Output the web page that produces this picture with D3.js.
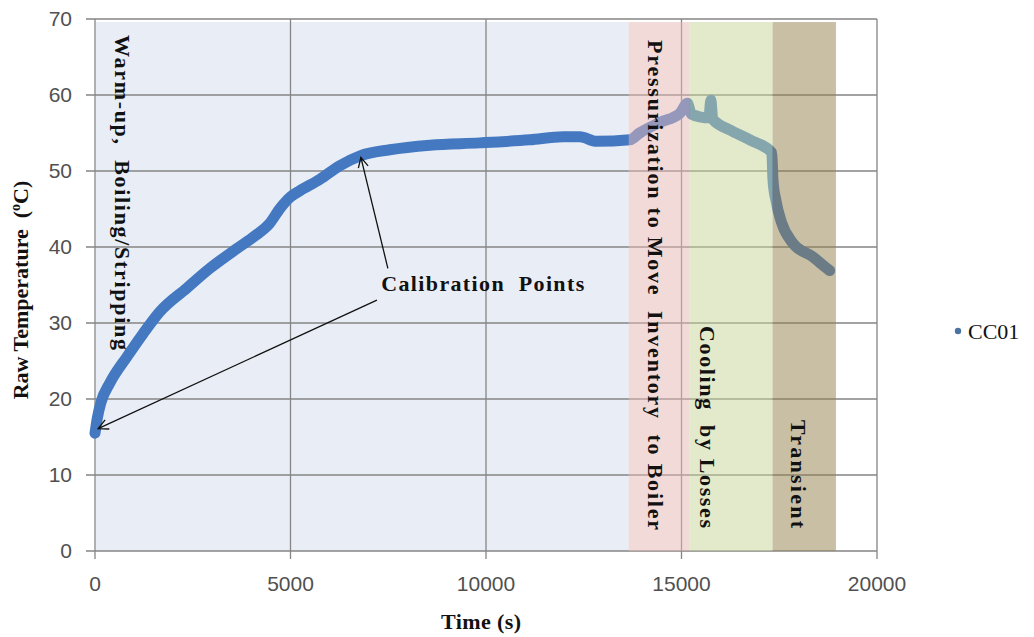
<!DOCTYPE html>
<html>
<head>
<meta charset="utf-8">
<script src="https://cdn.jsdelivr.net/npm/d3@7"></script>
<style>
  body { margin: 0; background: #fff; }
  .tick-label { font-family: "Liberation Sans", Arial, sans-serif; font-size: 21px; fill: #505050; }
  .serif-b { font-family: "Liberation Serif", "Times New Roman", serif; font-weight: bold; fill: #111; }
</style>
</head>
<body>
<div id="chart"></div>
<script>
// CC01 raw temperature
const times = [0, 60, 150, 380, 810, 1230, 1660, 2350, 2940, 3630, 4100, 4450, 4750, 5000, 5240,
  5750, 6260, 6780, 7540, 8570, 9840, 11120, 11970, 12400, 12830, 13680, 13930, 14450, 14960,
  15150, 15250, 15500, 15700, 15750, 15800, 16240, 16750, 17310, 17340, 17420, 17560, 17850,
  18360, 18715, 18790];
const temps = [15.5, 17.5, 19.5, 22.1, 25.5, 28.6, 31.5, 34.6, 37.2, 39.8, 41.5, 43.0, 45.2, 46.6, 47.4,
  48.9, 50.7, 52.0, 52.8, 53.4, 53.7, 54.1, 54.5, 54.5, 53.9, 54.1, 55.0, 56.4, 57.6,
  58.9, 57.5, 57.1, 57.0, 59.3, 56.8, 55.4, 54.1, 52.4, 48.8, 46.0, 43.2, 40.5,
  38.7, 37.2, 36.9];

// test phases
const phaseNames = ['Warm-up,  Boiling/Stripping', 'Pressurization to Move  Inventory  to Boiler',
  'Cooling  by Losses', 'Transient'];
const phaseStart = [0, 13650, 15200, 17330];
const phaseEnd = [13650, 15200, 17330, 18950];

const xTicks = [0, 5000, 10000, 15000, 20000];
const yTicks = [0, 10, 20, 30, 40, 50, 60, 70];

const seriesName = 'CC01';

const draw = () => {
  const width = 1034, height = 637;
  const svg = d3.select('#chart')
    .append('svg')
    .attr('width', width)
    .attr('height', height);

  const x = d3.scaleLinear().domain([0, 20000]).range([95, 877]);
  const y = d3.scaleLinear().domain([0, 70]).range([551, 19]);

  const data = times.map((t, i) => ({t: t, v: temps[i]}));
  const phases = phaseNames.map((name, i) => ({name: name, start: phaseStart[i], end: phaseEnd[i]}));
  const bandTop = 69.6;

  // warm-up band sits behind the data
  svg.append('rect')
    .attr('x', x(phases[0].start) + 1)
    .attr('y', y(bandTop))
    .attr('width', x(phases[0].end) - x(phases[0].start) - 1)
    .attr('height', y(0) - y(bandTop))
    .attr('fill', '#e9eef6');

  // grid
  svg.append('g')
    .selectAll('line')
    .data(yTicks)
    .join('line')
    .attr('x1', x(0) - 9).attr('x2', x(20000))
    .attr('y1', d => y(d)).attr('y2', d => y(d))
    .attr('stroke', '#858585').attr('stroke-width', 1.3);
  svg.append('g')
    .selectAll('line')
    .data(xTicks)
    .join('line')
    .attr('x1', d => x(d)).attr('x2', d => x(d))
    .attr('y1', y(70)).attr('y2', y(0) + 8)
    .attr('stroke', '#858585').attr('stroke-width', 1.3);

  // series
  const line = d3.line().x(d => x(d.t)).y(d => y(d.v)).curve(d3.curveMonotoneX);
  svg.append('path')
    .datum(data)
    .attr('d', line)
    .attr('fill', 'none')
    .attr('stroke', '#4479c2')
    .attr('stroke-width', 11)
    .attr('stroke-linejoin', 'round')
    .attr('stroke-linecap', 'round');

  // other phases are shaded over the data
  const overlay = ['#e5b5b3', '#c7d397', '#917f4b'];
  svg.append('g')
    .selectAll('rect')
    .data(phases.slice(1))
    .join('rect')
    .attr('x', d => x(d.start))
    .attr('y', y(bandTop))
    .attr('width', d => x(d.end) - x(d.start))
    .attr('height', y(0) - y(bandTop))
    .attr('fill', (d, i) => overlay[i])
    .attr('opacity', 0.5);

  // phase labels, reading downward
  const labelX = [122, 655, 707, 798];
  const labelTop = [35, 40, 326, 420];
  const labelLen = [315, 490, 202, 108];
  svg.append('g')
    .selectAll('text')
    .data(phases)
    .join('text')
    .attr('class', 'serif-b')
    .attr('font-size', 22)
    .attr('transform', (d, i) => `translate(${labelX[i]}, ${labelTop[i]}) rotate(90)`)
    .attr('dominant-baseline', 'central')
    .attr('textLength', (d, i) => labelLen[i])
    .attr('lengthAdjust', 'spacing')
    .style('white-space', 'pre')
    .text(d => d.name);

  // calibration arrows
  const defs = svg.append('defs');
  defs.append('marker')
    .attr('id', 'arrow')
    .attr('viewBox', '0 0 12 12')
    .attr('refX', 11).attr('refY', 6)
    .attr('markerWidth', 12).attr('markerHeight', 12)
    .attr('markerUnits', 'userSpaceOnUse')
    .attr('orient', 'auto')
    .append('path')
    .attr('d', 'M1,1 L11,6 L1,11')
    .attr('fill', 'none')
    .attr('stroke', '#111')
    .attr('stroke-width', 1.3);
  const arrows = [
    {from: [7490, 37.2], to: [6800, 51.8]},
    {from: [7210, 33.0], to: [80, 16.1]}
  ];
  svg.append('g')
    .selectAll('line')
    .data(arrows)
    .join('line')
    .attr('x1', d => x(d.from[0])).attr('y1', d => y(d.from[1]))
    .attr('x2', d => x(d.to[0])).attr('y2', d => y(d.to[1]))
    .attr('stroke', '#111')
    .attr('stroke-width', 1.3)
    .attr('marker-end', 'url(#arrow)');
  svg.append('text')
    .attr('class', 'serif-b')
    .attr('font-size', 22)
    .attr('x', x(7320)).attr('y', y(34.2))
    .attr('textLength', 203)
    .attr('lengthAdjust', 'spacing')
    .style('white-space', 'pre')
    .text('Calibration  Points');

  // tick labels
  svg.append('g')
    .selectAll('text')
    .data(xTicks)
    .join('text')
    .attr('class', 'tick-label')
    .attr('x', d => x(d))
    .attr('y', y(0) + 40)
    .attr('text-anchor', 'middle')
    .text(d => d);
  svg.append('g')
    .selectAll('text')
    .data(yTicks)
    .join('text')
    .attr('class', 'tick-label')
    .attr('x', 72)
    .attr('y', d => y(d) + 7)
    .attr('text-anchor', 'end')
    .text(d => d);

  // axis titles
  svg.append('text')
    .attr('class', 'serif-b')
    .attr('font-size', 22)
    .attr('x', 481).attr('y', 629)
    .attr('text-anchor', 'middle')
    .attr('textLength', 80)
    .text('Time (s)');
  const yt = svg.append('text')
    .attr('class', 'serif-b')
    .attr('font-size', 22)
    .attr('transform', 'translate(28, 290) rotate(-90)')
    .attr('text-anchor', 'middle')
    .style('white-space', 'pre');
  yt.append('tspan').text('Raw Temperature  (');
  yt.append('tspan').attr('font-size', 14).attr('dy', -8).text('o');
  yt.append('tspan').attr('dy', 8).text('C)');

  // legend
  svg.append('circle')
    .attr('cx', 958).attr('cy', 331).attr('r', 3.2)
    .attr('fill', '#4c72a3');
  svg.append('text')
    .attr('x', 968).attr('y', 339)
    .attr('font-family', '"Liberation Serif", "Times New Roman", serif')
    .attr('font-size', 22)
    .attr('fill', '#111')
    .text(seriesName);
};

draw();
</script>
</body>
</html>
